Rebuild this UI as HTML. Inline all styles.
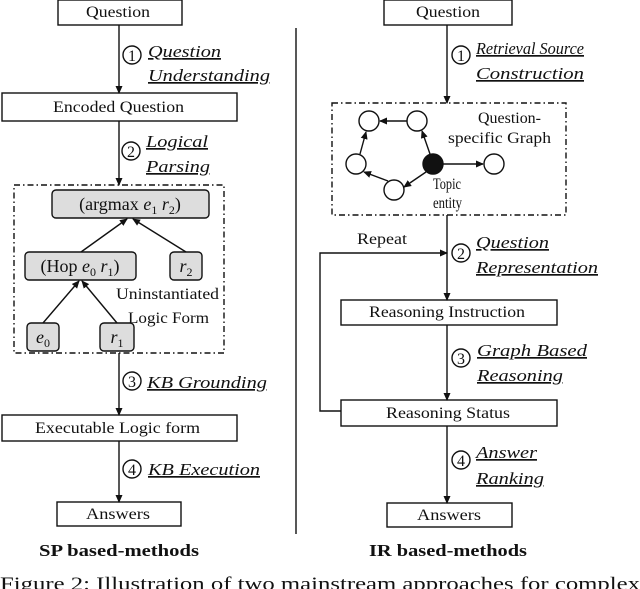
<!DOCTYPE html>
<html><head><meta charset="utf-8"><style>
body{margin:0;background:#fff;}
svg{display:block;}
text{font-family:"Liberation Serif","Times New Roman",serif;}
.t{font-size:16px;fill:#111;}
.i{font-size:17px;font-style:italic;text-decoration:underline;fill:#111;}
.n{font-size:16px;fill:#111;}
</style></head><body>
<svg width="640" height="589" viewBox="0 0 640 589" xmlns="http://www.w3.org/2000/svg">
<defs><marker id="a" markerWidth="8" markerHeight="8" refX="7" refY="4" orient="auto" markerUnits="userSpaceOnUse"><path d="M0,0.5 L8,4 L0,7.5 z" fill="#111"/></marker></defs>
<g stroke="#111" stroke-width="1.4" fill="none">
<rect x="58" y="0" width="124" height="25" fill="#fff"/>
<line x1="119" y1="25" x2="119" y2="93" marker-end="url(#a)"/>
<rect x="2" y="93" width="235" height="28"/>
<line x1="119" y1="121" x2="119" y2="185" marker-end="url(#a)"/>
<rect x="14" y="185" width="210" height="168" stroke-dasharray="6,3,1.5,3"/>
<rect x="52" y="190" width="157" height="28" rx="4" fill="#ddd"/>
<rect x="25" y="252" width="111" height="28" rx="4" fill="#ddd"/>
<rect x="170" y="252" width="32" height="28" rx="4" fill="#ddd"/>
<rect x="27" y="323" width="32" height="28" rx="4" fill="#ddd"/>
<rect x="100" y="323" width="34" height="28" rx="4" fill="#ddd"/>
<line x1="81" y1="252" x2="127" y2="219" marker-end="url(#a)"/>
<line x1="186" y1="252" x2="133" y2="219" marker-end="url(#a)"/>
<line x1="43" y1="323" x2="79" y2="281" marker-end="url(#a)"/>
<line x1="117" y1="323" x2="82" y2="281" marker-end="url(#a)"/>
<line x1="119" y1="353" x2="119" y2="415" marker-end="url(#a)"/>
<rect x="2" y="415" width="235" height="26"/>
<line x1="119" y1="441" x2="119" y2="502" marker-end="url(#a)"/>
<rect x="57" y="502" width="124" height="24"/>
<circle cx="132" cy="55" r="9"/><circle cx="131" cy="151" r="9"/><circle cx="132" cy="381" r="9"/><circle cx="132" cy="469" r="9"/>
<line x1="296" y1="28" x2="296" y2="534"/>
<rect x="384" y="0" width="128" height="25"/>
<line x1="447" y1="25" x2="447" y2="103" marker-end="url(#a)"/>
<rect x="332" y="103" width="234" height="112" stroke-dasharray="6,3,1.5,3"/>
<circle cx="369" cy="121" r="10"/><circle cx="417" cy="121" r="10"/><circle cx="356" cy="164" r="10"/>
<circle cx="394" cy="190" r="10"/><circle cx="433" cy="164" r="10" fill="#111"/><circle cx="494" cy="164" r="10"/>
<line x1="407" y1="121" x2="380" y2="121" marker-end="url(#a)"/>
<line x1="360" y1="154" x2="366" y2="132" marker-end="url(#a)"/>
<line x1="388" y1="181" x2="364" y2="172" marker-end="url(#a)"/>
<line x1="426" y1="172" x2="404" y2="187" marker-end="url(#a)"/>
<line x1="430" y1="154" x2="422" y2="131" marker-end="url(#a)"/>
<line x1="443" y1="164" x2="483" y2="164" marker-end="url(#a)"/>
<line x1="447" y1="215" x2="447" y2="300" marker-end="url(#a)"/>
<rect x="341" y="300" width="216" height="25"/>
<line x1="447" y1="325" x2="447" y2="400" marker-end="url(#a)"/>
<rect x="341" y="400" width="216" height="26"/>
<polyline points="341,411 320,411 320,253 447,253" marker-end="url(#a)"/>
<line x1="447" y1="426" x2="447" y2="503" marker-end="url(#a)"/>
<rect x="387" y="503" width="125" height="24"/>
<circle cx="461" cy="55" r="9"/><circle cx="461" cy="253" r="9"/><circle cx="461" cy="358" r="9"/><circle cx="461" cy="460" r="9"/>
</g>
<g class="n" text-anchor="middle">
<text x="132" y="61">1</text><text x="131" y="157">2</text><text x="132" y="387">3</text><text x="132" y="475">4</text>
<text x="461" y="61">1</text><text x="461" y="259">2</text><text x="461" y="364">3</text><text x="461" y="466">4</text>
</g>
<g class="t">
<text x="86" y="17" textLength="64" lengthAdjust="spacingAndGlyphs">Question</text>
<text x="53" y="112" textLength="131" lengthAdjust="spacingAndGlyphs">Encoded Question</text>
<text x="130" y="210" font-size="18" text-anchor="middle">(argmax <tspan font-style="italic">e</tspan><tspan font-size="12" dy="4">1</tspan><tspan dy="-4"> </tspan><tspan font-style="italic">r</tspan><tspan font-size="12" dy="4">2</tspan><tspan dy="-4">)</tspan></text>
<text x="80" y="272" font-size="18" text-anchor="middle">(Hop <tspan font-style="italic">e</tspan><tspan font-size="12" dy="4">0</tspan><tspan dy="-4"> </tspan><tspan font-style="italic">r</tspan><tspan font-size="12" dy="4">1</tspan><tspan dy="-4">)</tspan></text>
<text x="186" y="272" font-size="18" text-anchor="middle"><tspan font-style="italic">r</tspan><tspan font-size="12" dy="4">2</tspan></text>
<text x="43" y="343" font-size="18" text-anchor="middle"><tspan font-style="italic">e</tspan><tspan font-size="12" dy="4">0</tspan></text>
<text x="117" y="343" font-size="18" text-anchor="middle"><tspan font-style="italic">r</tspan><tspan font-size="12" dy="4">1</tspan></text>
<text x="116" y="299" textLength="103" lengthAdjust="spacingAndGlyphs">Uninstantiated</text>
<text x="128" y="323" textLength="81" lengthAdjust="spacingAndGlyphs">Logic Form</text>
<text x="35" y="433" textLength="165" lengthAdjust="spacingAndGlyphs">Executable Logic form</text>
<text x="86" y="519" textLength="64" lengthAdjust="spacingAndGlyphs">Answers</text>
<text x="416" y="17" textLength="64" lengthAdjust="spacingAndGlyphs">Question</text>
<text x="478" y="123" textLength="63" lengthAdjust="spacingAndGlyphs">Question-</text>
<text x="448" y="143" textLength="103" lengthAdjust="spacingAndGlyphs">specific Graph</text>
<text x="433" y="189" textLength="28" lengthAdjust="spacingAndGlyphs">Topic</text>
<text x="433" y="208" textLength="29" lengthAdjust="spacingAndGlyphs">entity</text>
<text x="369" y="317" textLength="156" lengthAdjust="spacingAndGlyphs">Reasoning Instruction</text>
<text x="386" y="418" textLength="124" lengthAdjust="spacingAndGlyphs">Reasoning Status</text>
<text x="417" y="520" textLength="64" lengthAdjust="spacingAndGlyphs">Answers</text>
<text x="357" y="244" textLength="50" lengthAdjust="spacingAndGlyphs">Repeat</text>
</g>
<g class="i" lengthAdjust="spacingAndGlyphs">
<text x="148" y="57" textLength="73" lengthAdjust="spacingAndGlyphs">Question</text><text x="148" y="81" textLength="122" lengthAdjust="spacingAndGlyphs">Understanding</text>
<text x="146" y="147" textLength="62" lengthAdjust="spacingAndGlyphs">Logical</text><text x="146" y="172" textLength="64" lengthAdjust="spacingAndGlyphs">Parsing</text>
<text x="147" y="388" textLength="120" lengthAdjust="spacingAndGlyphs">KB Grounding</text>
<text x="148" y="475" textLength="112" lengthAdjust="spacingAndGlyphs">KB Execution</text>
<text x="476" y="54" textLength="108" lengthAdjust="spacingAndGlyphs">Retrieval Source</text><text x="476" y="79" textLength="108" lengthAdjust="spacingAndGlyphs">Construction</text>
<text x="476" y="248" textLength="73" lengthAdjust="spacingAndGlyphs">Question</text><text x="476" y="273" textLength="122" lengthAdjust="spacingAndGlyphs">Representation</text>
<text x="477" y="356" textLength="110" lengthAdjust="spacingAndGlyphs">Graph Based</text><text x="477" y="381" textLength="86" lengthAdjust="spacingAndGlyphs">Reasoning</text>
<text x="476" y="458" textLength="61" lengthAdjust="spacingAndGlyphs">Answer</text><text x="476" y="484" textLength="68" lengthAdjust="spacingAndGlyphs">Ranking</text>
</g>
<g font-weight="bold" font-size="17" fill="#111">
<text x="39" y="556" textLength="160" lengthAdjust="spacingAndGlyphs">SP based-methods</text>
<text x="369" y="556" textLength="158" lengthAdjust="spacingAndGlyphs">IR based-methods</text>
</g>
<text x="0" y="590" font-size="19" fill="#111" textLength="640" lengthAdjust="spacingAndGlyphs">Figure 2: Illustration of two mainstream approaches for complex</text>
</svg>
</body></html>
